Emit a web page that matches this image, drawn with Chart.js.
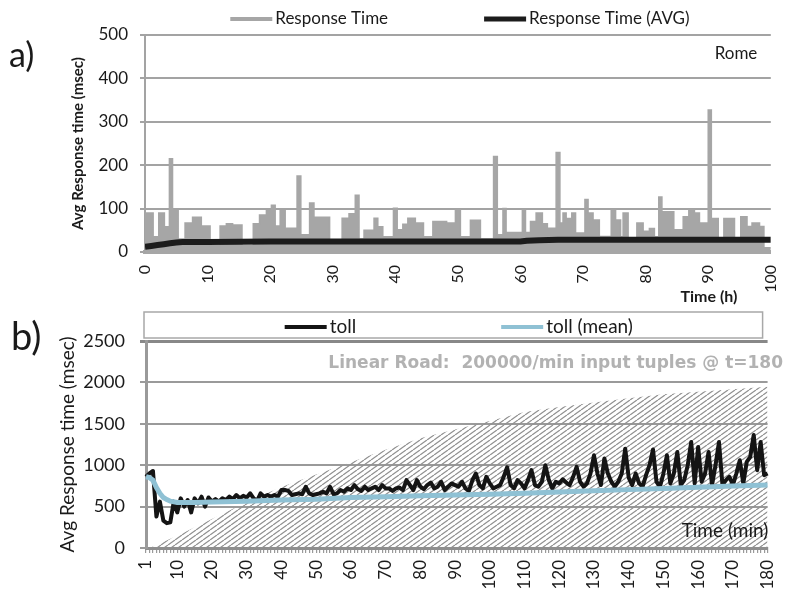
<!DOCTYPE html>
<html><head><meta charset="utf-8">
<script src="https://cdn.jsdelivr.net/npm/chart.js@4.4.0/dist/chart.umd.min.js"></script>
<style>
html,body{margin:0;padding:0;background:#fff;width:795px;height:592px;overflow:hidden;}
#wa{position:absolute;left:0;top:0;width:795px;height:305px;}
#wb{position:absolute;left:0;top:300px;width:795px;height:292px;}
canvas{display:block;}
</style></head><body>
<div id="wa"><canvas id="ca" width="795" height="305"></canvas></div>
<div id="wb"><canvas id="cb" width="795" height="292"></canvas></div>
<script>
// ---------- Panel a) : Rome, response time over hours ----------
const rtStart = [0,1.3,2.2,3.1,3.9,4.4,5.3,6.4,7.6,9.0,10.4,12.0,13.0,14.0,15.5,17.3,18.3,19.4,20.2,20.8,21.6,22.4,24.3,24.9,26.3,27.0,29.5,31.5,32.6,33.6,34.2,35.0,36.6,37.2,38.0,39.7,40.3,41.2,42.0,43.2,44.5,46.0,48.2,49.6,50.4,52.0,53.6,55.7,56.3,57.2,57.7,60.3,60.8,61.6,62.5,63.5,64.3,65.7,66.3,66.8,67.3,68.2,68.8,70.3,70.8,71.6,72.6,74.5,75.2,76.0,76.4,77.2,78.6,79.6,80.6,81.4,82.1,82.6,84.5,86.0,86.9,87.8,88.6,90.0,90.5,91.6,92.5,94.2,95.2,96.2,97.0,98.2,98.9,100];
const rtValue = [90,35,90,58,215,95,30,67,80,60,15,60,65,62,15,65,85,95,108,60,95,55,175,40,113,80,20,78,88,131,30,50,78,58,35,101,51,64,78,67,35,70,67,97,35,73,30,220,40,100,45,97,45,70,90,65,55,229,67,90,77,90,44,121,90,74,36,97,74,35,90,30,67,48,54,35,127,93,51,81,97,90,67,327,77,30,77,30,81,59,67,59,10,10];
const avgTime = [0,1,2,3,4,5,6,10,20,40,60,61,63,66,80,100];
const avgValue = [12,14,16,18,20,22,23,23,24,24,24,26,27,28,28,28];
const aXTicks = {min:0, max:100, step:10};
const aYTicks = {min:0, max:500, step:100};

// ---------- Panel b) : Linear Road toll response time over minutes ----------
const minutes = [];
for (let m = 1; m <= 180; m++) minutes.push(String(m));
const bTickLabels = [1,10,20,30,40,50,60,70,80,90,100,110,120,130,140,150,160,170,180];
const tollValue = [
 860,900,930,380,560,330,300,310,560,430,
 600,500,580,430,600,540,620,500,610,560,
 590,560,600,580,620,590,640,600,630,610,
 660,600,570,660,620,640,620,640,620,700,
 700,690,640,650,660,650,740,660,640,650,
 660,680,660,740,650,660,700,680,720,700,
 760,710,690,740,700,720,740,700,760,720,
 720,690,720,730,700,820,760,700,820,740,
 710,760,790,720,740,800,700,740,780,760,
 740,800,720,690,820,900,760,720,860,780,
 720,740,760,860,975,760,720,820,780,720,
 820,940,760,740,800,1000,820,720,800,780,
 830,790,760,860,980,800,740,780,900,1120,
 900,760,1080,900,800,740,800,900,1200,850,
 760,900,780,740,880,1000,1190,800,740,900,
 1120,780,900,1160,760,820,1000,1280,780,1220,
 800,900,1160,760,1000,1280,760,820,860,760,
 900,1060,780,1040,1100,1365,940,1280,880,900];
const meanMin = [1,2,3,4,5,6,7,8,10,15,20,30,40,50,60,70,80,90,100,110,120,130,140,150,160,170,180];
const meanValue = [861,850,820,730,660,610,585,565,550,550,555,565,580,590,610,620,630,640,650,660,675,690,705,720,735,750,760];
const inputMin = [2,10,20,30,40,50,60,70,80,90,100,110,120,130,140,150,160,170,180];
const inputTuples = [0,15200,36000,56900,75700,91000,106400,121900,136200,146800,157600,168700,174800,180300,185700,190600,193700,196800,200000];
const bYTicks = {min:0, max:2500, step:500};

const FONT = 'Lato';
Chart.defaults.font.family = FONT;
Chart.defaults.color = '#1a1a1a';
Chart.defaults.animation = false;

// legend drawn as line samples + labels (centered over plot area)
const lineLegend = {
  id: 'lineLegend',
  afterDraw(chart, args, o) {
    const {ctx, chartArea} = chart;
    const items = chart.data.datasets.filter(d => d.legendPos !== undefined).sort((a, b) => a.legendPos - b.legendPos);
    ctx.save();
    ctx.font = o.fontSize + 'px ' + FONT;
    const widths = items.map(d => o.lineLen + o.textGap + ctx.measureText(d.label).width);
    const total = widths.reduce((a, b) => a + b, 0) + o.itemGap * (items.length - 1);
    if (o.box) {
      ctx.strokeStyle = o.box.color; ctx.lineWidth = o.box.width;
      ctx.strokeRect(chartArea.left + o.box.dl, o.box.top, (chartArea.right + o.box.dr) - (chartArea.left + o.box.dl), o.box.height);
    }
    let x = (chartArea.left + chartArea.right) / 2 + (o.dx || 0) - total / 2;
    items.forEach((d, i) => {
      ctx.strokeStyle = d.borderColor; ctx.lineWidth = d.legendWidth; ctx.lineCap = 'butt';
      ctx.beginPath(); ctx.moveTo(x, o.y); ctx.lineTo(x + o.lineLen, o.y); ctx.stroke();
      ctx.fillStyle = '#1a1a1a'; ctx.textBaseline = 'middle'; ctx.textAlign = 'left';
      ctx.fillText(d.label, x + o.lineLen + o.textGap, o.y);
      x += widths[i] + o.itemGap;
    });
    ctx.restore();
  }
};
// free text annotations
const notes = {
  id: 'notes',
  afterDraw(chart, args, o) {
    const {ctx} = chart;
    ctx.save();
    (o.items || []).forEach(t => {
      ctx.font = (t.weight || 'normal') + ' ' + t.size + 'px ' + (t.family || FONT);
      ctx.fillStyle = t.color || '#1a1a1a';
      ctx.textAlign = t.align || 'left';
      ctx.textBaseline = t.baseline || 'middle';
      ctx.fillText(t.text, t.x, t.y);
    });
    ctx.restore();
  }
};
const plainNum = v => String(v);

// ---------- Chart a ----------
new Chart(document.getElementById('ca'), {
  type: 'line',
  data: {
    datasets: [
      {label: 'Response Time (AVG)', data: avgTime.map((t, i) => ({x: t, y: avgValue[i]})),
       borderColor: '#1c1c1c', backgroundColor: '#1c1c1c', borderWidth: 6, pointRadius: 0, fill: false,
       order: 0, legendPos: 1, legendWidth: 5},
      {label: 'Response Time', data: rtStart.map((t, i) => ({x: t, y: rtValue[i]})),
       borderColor: '#a6a6a6', backgroundColor: '#a6a6a6', borderWidth: 1.5, pointRadius: 0,
       stepped: true, fill: 'origin', order: 1, legendPos: 0, legendWidth: 4}
    ]
  },
  options: {
    responsive: false, animation: false,
    layout: {padding: {left: 65, right: 16, top: 35, bottom: 0}},
    plugins: {
      legend: {display: false}, tooltip: {enabled: false},
      lineLegend: {y: 19, fontSize: 17, lineLen: 42, textGap: 3, itemGap: 96, dx: 2},
      notes: {items: [
        {text: 'a)', x: 9, y: 67, size: 34, baseline: 'alphabetic'},
        {text: 'Rome', x: 736, y: 54, size: 17, align: 'center'},
        {text: 'Time (h)', x: 709, y: 297, size: 16, weight: 'bold', align: 'center'}
      ]}
    },
    scales: {
      x: {type: 'linear', min: aXTicks.min, max: aXTicks.max,
          afterFit: s => { s.height = 53; },
          ticks: {stepSize: aXTicks.step, minRotation: 90, maxRotation: 90, padding: 5, font: {size: 16}, color: '#1a1a1a', callback: plainNum},
          grid: {display: false},
          border: {display: true, color: '#a6a6a6', width: 4}},
      y: {min: aYTicks.min, max: aYTicks.max,
          afterFit: s => { s.width = 80; },
          ticks: {stepSize: aYTicks.step, padding: 12, font: {size: 17}, color: '#1a1a1a', callback: plainNum},
          grid: {color: '#a3a3a3', lineWidth: 2, tickLength: 5, tickColor: '#a3a3a3'},
          border: {display: true, color: '#a3a3a3', width: 2},
          title: {display: true, text: 'Avg Response time (msec)', font: {size: 15, weight: 'bold'}, padding: {top: 4, bottom: 0}, color: '#1a1a1a'}}
    }
  },
  plugins: [lineLegend, notes]
});

// ---------- Chart b ----------
function hatchPattern() {
  const c = document.createElement('canvas'); c.width = 7; c.height = 5;
  const g = c.getContext('2d');
  g.strokeStyle = '#909090'; g.lineWidth = 1.2;
  [-7, 0, 7].forEach(o => { g.beginPath(); g.moveTo(o, 5); g.lineTo(o + 7, 0); g.stroke(); });
  return g.createPattern(c, 'repeat');
}

new Chart(document.getElementById('cb'), {
  type: 'line',
  data: {
    labels: minutes,
    datasets: [
      {label: 'toll (mean)', data: meanMin.map((t, i) => ({x: String(t), y: meanValue[i]})),
       borderColor: '#8fc1d4', backgroundColor: '#8fc1d4', borderWidth: 5, pointRadius: 0, fill: false,
       order: 0, legendPos: 1, legendWidth: 4},
      {label: 'toll', data: tollValue,
       borderColor: '#141414', backgroundColor: '#141414', borderWidth: 4, pointRadius: 0, fill: false,
       order: 1, legendPos: 0, legendWidth: 4, borderJoinStyle: 'round'},
      {label: 'input tuples/min', data: inputMin.map((t, i) => ({x: String(t), y: inputTuples[i]})),
       yAxisID: 'y2', borderWidth: 0, borderColor: 'rgba(0,0,0,0)', backgroundColor: hatchPattern(),
       pointRadius: 0, fill: 'origin', order: 2}
    ]
  },
  options: {
    responsive: false, animation: false,
    layout: {padding: {left: 52, right: 8, top: 41, bottom: 0}},
    plugins: {
      legend: {display: false}, tooltip: {enabled: false},
      lineLegend: {y: 27, fontSize: 19, lineLen: 42, textGap: 3, itemGap: 145, dx: 2,
                   box: {dl: -2, dr: -5, top: 12, height: 26, color: '#a8a8a8', width: 1.5}},
      notes: {items: [
        {text: 'b)', x: 11, y: 50, size: 38, baseline: 'alphabetic'},
        {text: 'Linear Road:  200000/min input tuples @ t=180', x: 783, y: 64, size: 17, weight: 'bold',
         family: 'DejaVu Sans', color: '#b2b2b2', align: 'right'},
        {text: 'Time (min)', x: 725, y: 231, size: 19, align: 'center'}
      ]}
    },
    scales: {
      x: {type: 'category',
          afterFit: s => { s.height = 44; },
          ticks: {autoSkip: false, minRotation: 90, maxRotation: 90, padding: 7, font: {size: 17}, color: '#1a1a1a',
                  callback: function(v) { const l = this.getLabelForValue(v); return bTickLabels.includes(Number(l)) ? l : ''; }},
          grid: {drawOnChartArea: false, drawTicks: true, tickLength: 5, color: '#9a9a9a', lineWidth: 1.2},
          border: {display: true, color: '#8e8e8e', width: 3}},
      y: {min: bYTicks.min, max: bYTicks.max,
          afterFit: s => { s.width = 94; },
          ticks: {stepSize: bYTicks.step, padding: 15, font: {size: 18}, color: '#1a1a1a', callback: plainNum},
          grid: {color: c => c.tick && c.tick.value === bYTicks.max ? '#888' : '#9a9a9a',
                 lineWidth: c => c.tick && c.tick.value === bYTicks.max ? 3 : 2,
                 tickLength: 6},
          border: {display: true, color: '#9a9a9a', width: 3},
          title: {display: true, text: 'Avg Response time (msec)', font: {size: 19}, padding: {top: 4, bottom: 0}, color: '#1a1a1a'}},
      y2: {display: false, min: 0, max: 256700}
    }
  },
  plugins: [lineLegend, notes]
});
</script></body></html>
